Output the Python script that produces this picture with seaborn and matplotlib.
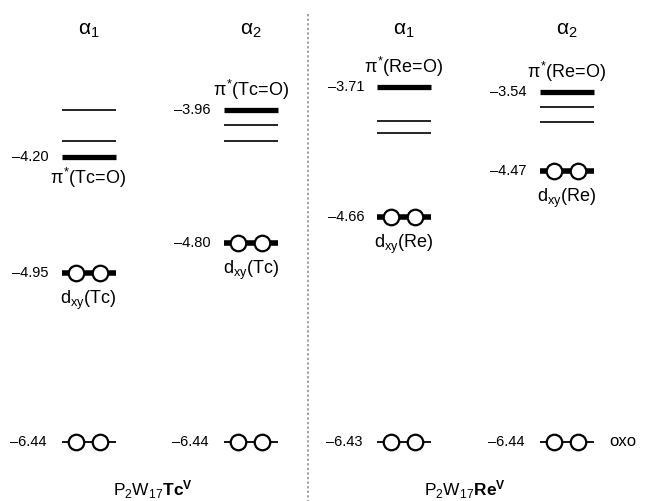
import matplotlib
matplotlib.use("Agg")
import matplotlib.pyplot as plt
import pandas as pd
import seaborn as sns

# ---- data ----
COMPOUNDS = [r"P$_2$W$_{17}$$\mathbf{Tc^V}$", r"P$_2$W$_{17}$$\mathbf{Re^V}$"]
ISOMERS = [r"$\alpha_1$", r"$\alpha_2$", r"$\alpha_1$", r"$\alpha_2$"]
PI_ENERGY = [-4.20, -3.96, -3.71, -3.54]
DXY_ENERGY = [-4.95, -4.80, -4.66, -4.47]
OXO_ENERGY = [-6.44, -6.44, -6.43, -6.44]
PI_LABELS = [r"$\pi^{*}$(Tc=O)", r"$\pi^{*}$(Tc=O)", r"$\pi^{*}$(Re=O)", r"$\pi^{*}$(Re=O)"]
DXY_LABELS = [r"d$_{xy}$(Tc)", r"d$_{xy}$(Tc)", r"d$_{xy}$(Re)", r"d$_{xy}$(Re)"]
OXO_LABEL = "oxo"

# ---- layout (schematic diagram, heights are not to scale) ----
COL_X = [88.5, 251, 404, 566.5]
HALF_W = 27
PI_Y = [157, 110, 87, 92]
EXTRA_Y = [[110, 141], [125, 141], [121, 133], [107, 122]]
DXY_Y = [273, 243, 217, 171]
OXO_Y = [442, 442, 442, 442]
PI_LABEL_BELOW = [True, False, False, False]
ELECTRON_DX = [-13, 11]
DIVIDER_X = 308
COMPOUND_X = [153, 465]


def fmt(e: float) -> str:
    return f"\u2013{abs(e):.2f}"


def main() -> None:
    sns.set_theme(style="white")
    plt.rcParams["font.family"] = ["Liberation Sans", "DejaVu Sans"]
    plt.rcParams["text.color"] = "black"
    plt.rcParams["mathtext.fontset"] = "custom"
    plt.rcParams["mathtext.rm"] = "Liberation Sans"
    plt.rcParams["mathtext.it"] = "Liberation Sans"
    plt.rcParams["mathtext.bf"] = "Liberation Sans:bold"

    fig = plt.figure(figsize=(6.5, 5.01), dpi=100)
    ax = fig.add_axes([0, 0, 1, 1])
    ax.set_xlim(0, 650)
    ax.set_ylim(501, 0)
    ax.axis("off")

    for i, cx in enumerate(COL_X):
        x0, x1 = cx - HALF_W, cx + HALF_W
        ax.text(cx, 30, ISOMERS[i], ha="center", va="center", fontsize=15)

        # pi* levels: thick one labelled, two thin ones unlabelled
        ax.hlines(PI_Y[i], x0, x1, color="black", lw=3.8)
        ax.hlines(EXTRA_Y[i], x0, x1, color="black", lw=1.2)
        ax.text(x0 - 13, PI_Y[i], fmt(PI_ENERGY[i]), ha="right", va="center", fontsize=10.5)
        dy = 21 if PI_LABEL_BELOW[i] else -20
        ax.text(cx, PI_Y[i] + dy, PI_LABELS[i], ha="center", va="center", fontsize=13)

        # dxy level (occupied)
        ax.hlines(DXY_Y[i], x0, x1, color="black", lw=4)
        ax.text(x0 - 13, DXY_Y[i], fmt(DXY_ENERGY[i]), ha="right", va="center", fontsize=10.5)
        ax.text(cx, DXY_Y[i] + 27, DXY_LABELS[i], ha="center", va="center", fontsize=13)

        # oxo level (occupied)
        ax.hlines(OXO_Y[i], x0, x1, color="black", lw=1.3)
        ax.text(x0 - 15, OXO_Y[i], fmt(OXO_ENERGY[i]), ha="right", va="center", fontsize=10.5)

    ax.text(COL_X[-1] + HALF_W + 16, OXO_Y[-1], OXO_LABEL, ha="left", va="center", fontsize=12)

    rows = []
    for i, cx in enumerate(COL_X):
        for y in (DXY_Y[i], OXO_Y[i]):
            for dx in ELECTRON_DX:
                rows.append({"x": cx + dx, "y": y})
    electrons = pd.DataFrame(rows)
    sns.scatterplot(data=electrons, x="x", y="y", s=125, color="white",
                    edgecolor="black", linewidth=1.6, ax=ax, zorder=3, legend=False)

    ax.vlines(DIVIDER_X, 14, 501, color="#888888", lw=1.1, linestyles=(0, (1.5, 1.5)))

    for cx, name in zip(COMPOUND_X, COMPOUNDS):
        ax.text(cx, 490, name, ha="center", va="center", fontsize=12.5)

    fig.savefig("out.png", dpi=100, facecolor="white")


if __name__ == "__main__":
    main()
